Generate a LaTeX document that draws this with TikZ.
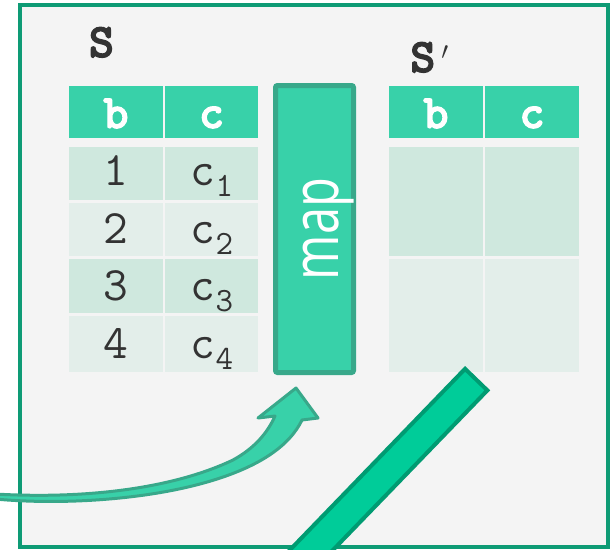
\documentclass[tikz,border=0pt]{standalone}
\usepackage{fontspec}
\newfontfamily\mapfont{Open Sans}
\newfontfamily\ttheavy{lmmonolt10-bold.otf}[FakeBold=2.5]
\definecolor{paper}{HTML}{F4F4F4}
\definecolor{frame}{HTML}{0E9B75}
\definecolor{hdrcol}{HTML}{38D1A9}
\definecolor{rowdark}{HTML}{CFE8DE}
\definecolor{rowlight}{HTML}{E3EEEA}
\definecolor{boxedge}{HTML}{38A88A}
\definecolor{barfill}{HTML}{00CC99}
\definecolor{baredge}{HTML}{009B72}
\definecolor{ink}{HTML}{333333}
\tikzset{
  hdrtext/.style={font=\ttheavy\fontsize{48}{48}\selectfont, text=white, anchor=base, inner sep=0pt},
  celltext/.style={font=\ttfamily\fontsize{48}{48}\selectfont, text=ink, anchor=base, inner sep=0pt},
  tablename/.style={font=\ttheavy\fontsize{48}{48}\selectfont, text=ink, inner sep=0pt},
  mapbox/.style={draw=boxedge, fill=hdrcol, line width=5pt, rounded corners=2pt, minimum width=78pt, minimum height=287pt, inner sep=0pt},
  maptext/.style={font=\mapfont\fontsize{65}{65}\selectfont, text=white, anchor=base, inner sep=0pt, rotate=90},
  bendarrow/.style={draw=boxedge, fill=hdrcol, line width=3pt, line join=round},
  bar/.style={draw=baredge, fill=barfill, line width=4pt, line join=miter},
}
\newcommand{\csub}[1]{c\raisebox{-11pt}{\fontsize{34}{34}\selectfont #1}}
\newcommand{\primemark}{\hspace{6pt}\raisebox{13pt}{\fontsize{27}{27}\selectfont$\prime$}}
\begin{document}
\begin{tikzpicture}[x=1pt,y=-1pt]
\useasboundingbox (0,0) rectangle (610,549);
\clip (0,0) rectangle (610,549);

% panel
\fill[white] (0,0) rectangle (610,549);
\draw[frame, fill=paper, line width=4pt] (19.5,5) rectangle (607.5,547);

% table S
\fill[hdrcol] (69,86) rectangle (163,138);
\fill[hdrcol] (165,86) rectangle (258,138);
\fill[rowdark]  (69,147) rectangle (163,200);  \fill[rowdark]  (165,147) rectangle (258,200);
\fill[rowlight] (69,203) rectangle (163,256);  \fill[rowlight] (165,203) rectangle (258,256);
\fill[rowdark]  (69,259) rectangle (163,313);  \fill[rowdark]  (165,259) rectangle (258,313);
\fill[rowlight] (69,316) rectangle (163,372);  \fill[rowlight] (165,316) rectangle (258,372);

\node[tablename, anchor=base] (sname) at (101.5,57) {S};
\node[hdrtext] (sb) at (116,128) {b};
\node[hdrtext] (sc) at (211.5,128) {c};
\node[celltext] (b1) at (116,185) {1};
\node[celltext] (b2) at (116,243) {2};
\node[celltext] (b3) at (116,300) {3};
\node[celltext] (b4) at (116,358) {4};
\node[celltext] (c1) at (212,185) {\csub{1}};
\node[celltext] (c2) at (212,243) {\csub{2}};
\node[celltext] (c3) at (212,300) {\csub{3}};
\node[celltext] (c4) at (212,358) {\csub{4}};

% table S'
\fill[hdrcol] (389,86) rectangle (483,138);
\fill[hdrcol] (485,86) rectangle (579,138);
\fill[rowdark]  (389,147) rectangle (483,256);  \fill[rowdark]  (485,147) rectangle (579,256);
\fill[rowlight] (389,259) rectangle (483,372);  \fill[rowlight] (485,259) rectangle (579,372);

\node[tablename, anchor=base west] (tname) at (410,72) {S\primemark};
\node[hdrtext] (tb) at (436,128) {b};
\node[hdrtext] (tc) at (532,128) {c};

% map operator
\node[mapbox] (map) at (314.5,229) {};
\node[maptext] (maplabel) at (338,229) {\scalebox{0.75}[1]{map}};

% curved arrow into the operator
\path[bendarrow]
  (-5,494) .. controls (80,499) and (170,490) .. (233,460)
  .. controls (255,448) and (268,432) .. (275,416)
  -- (258,418) -- (296,388) -- (318,418) -- (302,420)
  .. controls (290,445) and (260,468) .. (200,484)
  .. controls (140,500) and (60,505) .. (-5,499) -- cycle;

% diagonal bar
\path[bar] (465.05,368.83) -- (487.37,390.35) -- (306.67,577.2) -- (284.35,555.7) -- cycle;
\end{tikzpicture}
\end{document}
